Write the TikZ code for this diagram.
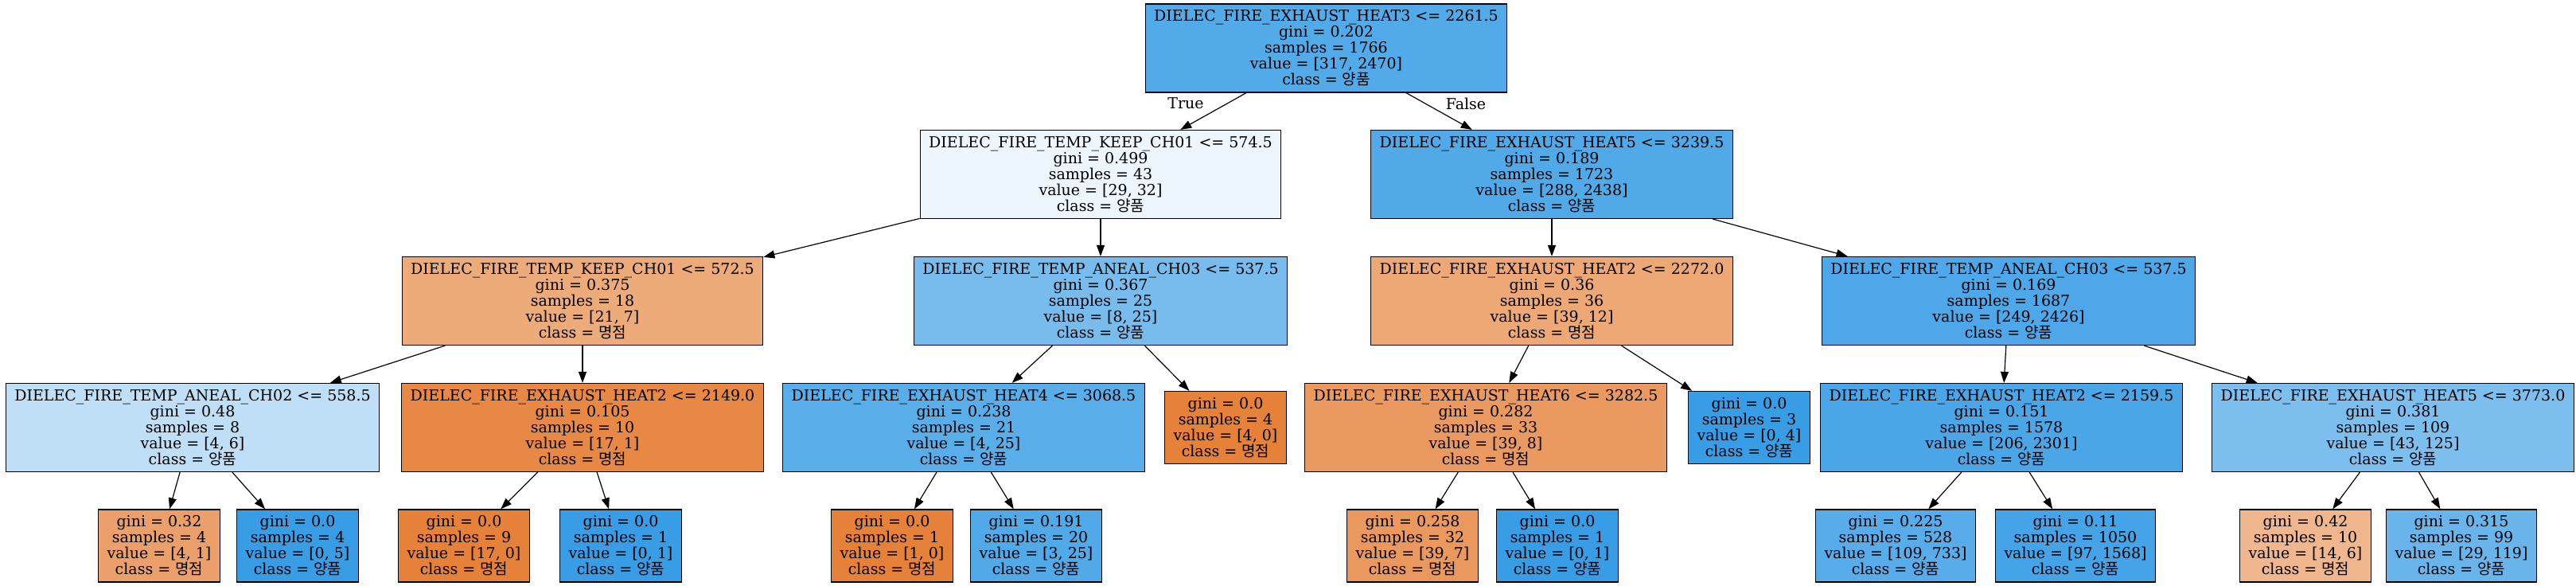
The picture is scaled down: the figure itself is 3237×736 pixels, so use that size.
\documentclass[tikz,border=0pt]{standalone}
\usepackage{fontspec}
\setmainfont{DejaVu Serif}
\newfontfamily\kr{Noto Sans CJK KR}
\usetikzlibrary{arrows.meta}
\definecolor{corange}{RGB}{229,129,57}
\definecolor{cblue}{RGB}{57,157,229}
\newcommand{\good}{{\kr 양품}}
\newcommand{\bad}{{\kr 명점}}
\tikzset{
  tn/.style={draw=black, line width=1.2pt, align=center, inner xsep=11pt, inner ysep=0pt,
    font=\fontsize{19}{20}\selectfont, minimum height=111pt},
  lf/.style={tn, minimum height=91pt},
  ob/.style={fill=corange!#1!white},
  bb/.style={fill=cblue!#1!white},
  tedge/.style={line width=1.2pt, -{Triangle[length=14pt,width=10pt]}},
  elab/.style={font=\fontsize{19}{20}\selectfont}
}
\begin{document}
\begin{tikzpicture}[x=1pt,y=-1pt]
\useasboundingbox (0,0) rectangle (3237,736);
% level 1
\node[tn,bb=87] (root) at (1666.5,60.5) {DIELEC\_FIRE\_EXHAUST\_HEAT3 <= 2261.5\\gini = 0.202\\samples = 1766\\value = [317, 2470]\\class = \good};
% level 2
\node[tn,bb=9] (A) at (1383,219) {DIELEC\_FIRE\_TEMP\_KEEP\_CH01 <= 574.5\\gini = 0.499\\samples = 43\\value = [29, 32]\\class = \good};
\node[tn,bb=88] (B) at (1950,219) {DIELEC\_FIRE\_EXHAUST\_HEAT5 <= 3239.5\\gini = 0.189\\samples = 1723\\value = [288, 2438]\\class = \good};
% level 3
\node[tn,ob=67] (C) at (732,378) {DIELEC\_FIRE\_TEMP\_KEEP\_CH01 <= 572.5\\gini = 0.375\\samples = 18\\value = [21, 7]\\class = \bad};
\node[tn,bb=68] (D) at (1383,378) {DIELEC\_FIRE\_TEMP\_ANEAL\_CH03 <= 537.5\\gini = 0.367\\samples = 25\\value = [8, 25]\\class = \good};
\node[tn,ob=69] (E) at (1950,378) {DIELEC\_FIRE\_EXHAUST\_HEAT2 <= 2272.0\\gini = 0.36\\samples = 36\\value = [39, 12]\\class = \bad};
\node[tn,bb=90] (F) at (2524,378) {DIELEC\_FIRE\_TEMP\_ANEAL\_CH03 <= 537.5\\gini = 0.169\\samples = 1687\\value = [249, 2426]\\class = \good};
% level 4
\node[tn,bb=33] (G) at (242,537) {DIELEC\_FIRE\_TEMP\_ANEAL\_CH02 <= 558.5\\gini = 0.48\\samples = 8\\value = [4, 6]\\class = \good};
\node[tn,ob=94] (H) at (732,537) {DIELEC\_FIRE\_EXHAUST\_HEAT2 <= 2149.0\\gini = 0.105\\samples = 10\\value = [17, 1]\\class = \bad};
\node[tn,bb=84] (I) at (1211,537) {DIELEC\_FIRE\_EXHAUST\_HEAT4 <= 3068.5\\gini = 0.238\\samples = 21\\value = [4, 25]\\class = \good};
\node[lf,ob=100] (J) at (1540,537) {gini = 0.0\\samples = 4\\value = [4, 0]\\class = \bad};
\node[tn,ob=80] (K) at (1867,537) {DIELEC\_FIRE\_EXHAUST\_HEAT6 <= 3282.5\\gini = 0.282\\samples = 33\\value = [39, 8]\\class = \bad};
\node[lf,bb=100] (L) at (2198,537) {gini = 0.0\\samples = 3\\value = [0, 4]\\class = \good};
\node[tn,bb=91] (M) at (2515,537) {DIELEC\_FIRE\_EXHAUST\_HEAT2 <= 2159.5\\gini = 0.151\\samples = 1578\\value = [206, 2301]\\class = \good};
\node[tn,bb=66] (N) at (3007,537) {DIELEC\_FIRE\_EXHAUST\_HEAT5 <= 3773.0\\gini = 0.381\\samples = 109\\value = [43, 125]\\class = \good};
% level 5
\node[lf,ob=75] (G1) at (200,685.5) {gini = 0.32\\samples = 4\\value = [4, 1]\\class = \bad};
\node[lf,bb=100] (G2) at (374,685.5) {gini = 0.0\\samples = 4\\value = [0, 5]\\class = \good};
\node[lf,ob=100] (H1) at (583,685.5) {gini = 0.0\\samples = 9\\value = [17, 0]\\class = \bad};
\node[lf,bb=100] (H2) at (780,685.5) {gini = 0.0\\samples = 1\\value = [0, 1]\\class = \good};
\node[lf,ob=100] (I1) at (1121,685.5) {gini = 0.0\\samples = 1\\value = [1, 0]\\class = \bad};
\node[lf,bb=88] (I2) at (1302,685.5) {gini = 0.191\\samples = 20\\value = [3, 25]\\class = \good};
\node[lf,ob=82] (K1) at (1775,685.5) {gini = 0.258\\samples = 32\\value = [39, 7]\\class = \bad};
\node[lf,bb=100] (K2) at (1957,685.5) {gini = 0.0\\samples = 1\\value = [0, 1]\\class = \good};
\node[lf,bb=85] (M1) at (2382,685.5) {gini = 0.225\\samples = 528\\value = [109, 733]\\class = \good};
\node[lf,bb=94] (M2) at (2608,685.5) {gini = 0.11\\samples = 1050\\value = [97, 1568]\\class = \good};
\node[lf,ob=57] (N1) at (2897,685.5) {gini = 0.42\\samples = 10\\value = [14, 6]\\class = \bad};
\node[lf,bb=76] (N2) at (3093,685.5) {gini = 0.315\\samples = 99\\value = [29, 119]\\class = \good};
% edges
\foreach \p/\c in {root/A,root/B,A/C,A/D,B/E,B/F,C/G,C/H,D/I,D/J,E/K,E/L,F/M,F/N,G/G1,G/G2,H/H1,H/H2,I/I1,I/I2,K/K1,K/K2,M/M1,M/M2,N/N1,N/N2}
  \draw[tedge] (\p) -- (\c);
\node[elab] (tlab) at (1490,130) {True};
\node[elab] (flab) at (1842,130) {False};
\end{tikzpicture}
\end{document}
